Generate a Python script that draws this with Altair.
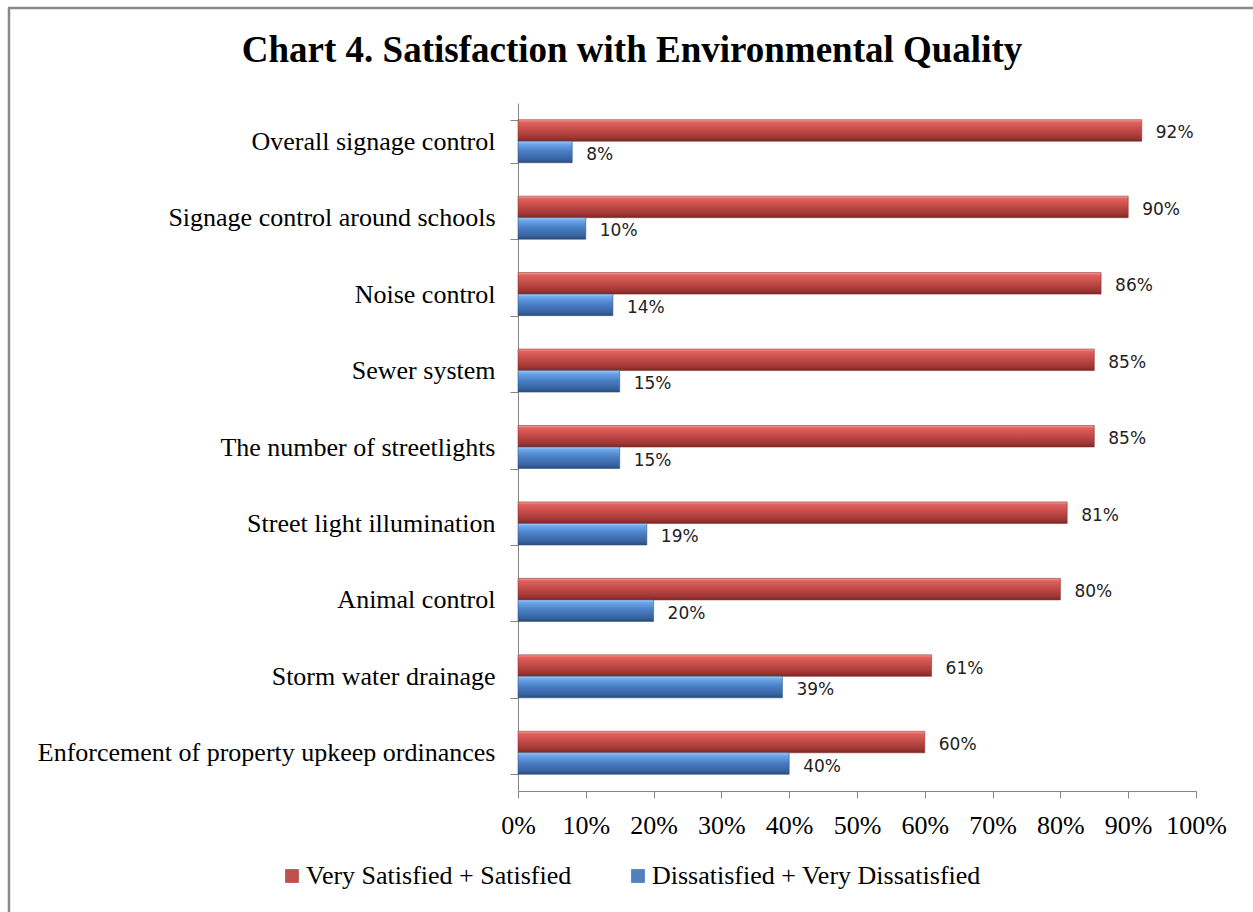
import altair as alt
import pandas as pd

TITLE = "Chart 4. Satisfaction with Environmental  Quality"

# Survey items, top to bottom
categories = [
    "Overall signage control",
    "Signage control around schools",
    "Noise control",
    "Sewer system",
    "The number of streetlights",
    "Street light illumination",
    "Animal control",
    "Storm water drainage",
    "Enforcement of property upkeep ordinances",
]
series_names = ["Very Satisfied + Satisfied", "Dissatisfied + Very Dissatisfied"]
satisfied = [92, 90, 86, 85, 85, 81, 80, 61, 60]
dissatisfied = [8, 10, 14, 15, 15, 19, 20, 39, 40]
x_ticks = [0, 10, 20, 30, 40, 50, 60, 70, 80, 90, 100]

rows = []
for cat, s, d in zip(categories, satisfied, dissatisfied):
    rows.append({"item": cat, "group": series_names[0], "pct": s})
    rows.append({"item": cat, "group": series_names[1], "pct": d})
df = pd.DataFrame(rows)
df["label"] = df["pct"].astype(str) + "%"

SERIF = "Liberation Serif"

red_grad = {
    "gradient": "linear", "x1": 0, "y1": 0, "x2": 0, "y2": 1,
    "stops": [
        {"offset": 0.0, "color": "#f3a3a1"},
        {"offset": 0.12, "color": "#e2605d"},
        {"offset": 0.45, "color": "#c44c49"},
        {"offset": 0.85, "color": "#9c3532"},
        {"offset": 1.0, "color": "#762624"},
    ],
}
blue_grad = {
    "gradient": "linear", "x1": 0, "y1": 0, "x2": 0, "y2": 1,
    "stops": [
        {"offset": 0.0, "color": "#acd0f7"},
        {"offset": 0.12, "color": "#6ea7ec"},
        {"offset": 0.45, "color": "#4a80c6"},
        {"offset": 0.85, "color": "#3762a0"},
        {"offset": 1.0, "color": "#274876"},
    ],
}

y_enc = alt.Y(
    "item:N",
    sort=categories,
    scale=alt.Scale(paddingInner=0.437, paddingOuter=0.2185),
    axis=alt.Axis(
        title=None,
        tickBand="extent",
        tickSize=8,
        labelPadding=15,
        labelFont=SERIF,
        labelFontSize=26,
        labelColor="#000000",
        labelLimit=600,
        domainColor="#868686",
        tickColor="#868686",
    ),
)
y_off = alt.YOffset("group:N", sort=series_names, scale=alt.Scale(paddingInner=0))
x_enc = alt.X(
    "pct:Q",
    scale=alt.Scale(domain=[0, 100], nice=False),
    axis=alt.Axis(
        title=None,
        values=x_ticks,
        labelExpr="datum.value + '%'",
        tickSize=7,
        labelPadding=14,
        labelFont=SERIF,
        labelFontSize=26,
        labelColor="#000000",
        labelFlush=False,
        grid=False,
        domainColor="#868686",
        tickColor="#868686",
    ),
)

base = alt.Chart(df)

# invisible bars that carry the legend
legend_bars = base.mark_bar(opacity=0).encode(
    y=y_enc,
    yOffset=y_off,
    x=x_enc,
    color=alt.Color(
        "group:N",
        sort=series_names,
        scale=alt.Scale(domain=series_names, range=["#c0504d", "#4f81bd"]),
        legend=alt.Legend(
            title=None,
            orient="none",
            direction="horizontal",
            legendX=-239,
            legendY=760,
            symbolType="square",
            symbolSize=190,
            symbolOpacity=1,
            symbolStrokeWidth=0,
            labelFont=SERIF,
            labelFontSize=26,
            labelColor="#000000",
            labelOffset=1,
            labelLimit=600,
            columnPadding=53,
            padding=0,
        ),
    ),
)

bars = base.mark_bar(strokeWidth=0.6).encode(
    y=alt.Y("item:N", sort=categories),
    yOffset=alt.YOffset("group:N", sort=series_names),
    x=alt.X("pct:Q"),
    fill=alt.condition(
        alt.datum.group == series_names[0], alt.value(red_grad), alt.value(blue_grad)
    ),
    stroke=alt.condition(
        alt.datum.group == series_names[0], alt.value("#8e3532"), alt.value("#35598a")
    ),
)

labels = base.mark_text(
    align="left", baseline="middle", dx=14, dy=3,
    font="DejaVu Sans", fontSize=17, color="#222222",
).encode(
    y=alt.Y("item:N", sort=categories),
    yOffset=alt.YOffset("group:N", sort=series_names),
    x=alt.X("pct:Q"),
    text="label:N",
)

# heading and frame lines along the top and left edges of the figure
one_row = pd.DataFrame({"t": [TITLE]})
heading = alt.Chart(one_row).mark_text(
    font=SERIF, fontSize=37, fontWeight="bold", color="#000000",
    align="center", baseline="alphabetic",
).encode(text="t:N", x=alt.value(114), y=alt.value(-41))

frame_left = alt.Chart(one_row).mark_rule(color="#8a8a8a", strokeWidth=2.5).encode(
    x=alt.value(-509), y=alt.value(-95), y2=alt.value(820)
)
frame_top = alt.Chart(one_row).mark_rule(color="#8a8a8a", strokeWidth=2.5).encode(
    x=alt.value(-510), x2=alt.value(745), y=alt.value(-95)
)

chart = (
    alt.layer(legend_bars, bars, labels, heading, frame_left, frame_top)
    .properties(
        width=678,
        height=688,
        autosize=alt.AutoSizeParams(type="none"),
        padding={"left": 518, "top": 103, "right": 57, "bottom": 121},
        background="#ffffff",
    )
    .configure_view(stroke=None)
)

chart.save("out.html", embed_options={"renderer": "svg", "actions": False})
